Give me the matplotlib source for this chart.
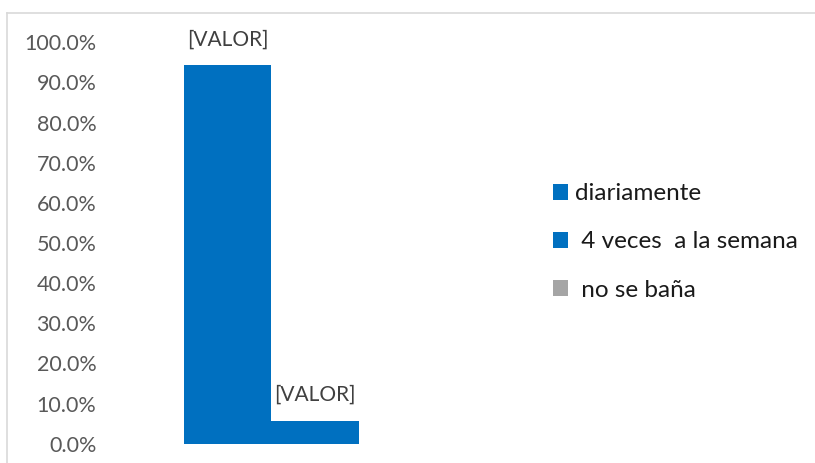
import matplotlib
matplotlib.use("Agg")
import matplotlib.pyplot as plt
from matplotlib.lines import Line2D
from matplotlib.ticker import FuncFormatter

series = ["diariamente", " 4 veces  a la semana", " no se baña"]
values = [0.943, 0.057, 0.0]
colors = ["#0070C0", "#0070C0", "#A5A5A5"]
data_labels = ["[VALOR]", "[VALOR]", None]
yticks = [0.0, 0.1, 0.2, 0.3, 0.4, 0.5, 0.6, 0.7, 0.8, 0.9, 1.0]

FONT = "Lato"
W, H = 815, 463
fig = plt.figure(figsize=(W / 100, H / 100), dpi=100)
fig.patch.set_facecolor("white")

left_px, right_px = 120, 510
bot_px, top_px = 443.7, 42.3
ax = fig.add_axes([left_px / W, (H - bot_px) / H, (right_px - left_px) / W, (bot_px - top_px) / H])

bw = 1.0
offsets = [-bw, 0.0, bw]
handles = []
for s, v, c, off, lab in zip(series, values, colors, offsets, data_labels):
    b = ax.bar(off, v, width=bw, color=c, label=s, linewidth=0)
    handles.append(b)
    if lab:
        ax.annotate(lab, (off, v), xytext=(0, 18.5), textcoords="offset points",
                    ha="center", va="center", fontsize=15, color="#404040",
                    family=FONT)

ax.set_xlim(-2.233, 2.233)
ax.set_ylim(0, 1.0)
ax.set_yticks(yticks)
ax.yaxis.set_major_formatter(FuncFormatter(lambda v, p: f"{v*100:.1f}%"))
ax.set_xticks([])
for sp in ax.spines.values():
    sp.set_visible(False)
ax.tick_params(axis="y", length=0, pad=17, labelsize=15.5, labelcolor="#595959")
for t in ax.get_yticklabels():
    t.set_family(FONT)

leg = fig.legend(handles=handles, labels=series, loc="center left",
                 bbox_to_anchor=(553 / W, (H - 242) / H), frameon=False,
                 prop={"family": FONT, "size": 17.5}, handlelength=0.62,
                 handleheight=0.62, handletextpad=0.3, labelspacing=1.12,
                 borderpad=0, borderaxespad=0)
for t in leg.get_texts():
    t.set_color("#1a1a1a")

fig.add_artist(Line2D([7 / W, 7 / W], [0, (H - 12.5) / H], color="#D9D9D9", lw=1.2))
fig.add_artist(Line2D([7 / W, 1.0], [(H - 12.5) / H, (H - 12.5) / H], color="#D9D9D9", lw=1.2))

fig.savefig("out.png", dpi=100, facecolor="white")
